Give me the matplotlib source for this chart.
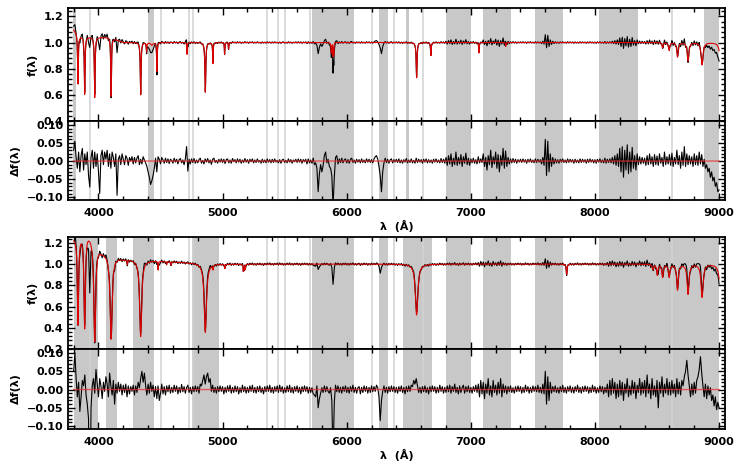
import numpy as np
import matplotlib
matplotlib.use("Agg")
import matplotlib.pyplot as plt
from matplotlib.ticker import MultipleLocator

plt.rcParams['font.family'] = ['DejaVu Sans']
plt.rcParams['font.weight'] = 'bold'
plt.rcParams['font.size'] = 8

# ---- masked regions (grey) ----
bands_a = [(3795, 3820), (4403, 4449), (5720, 6060), (6262, 6329), (6479, 6504),
           (6800, 7000), (7100, 7320), (7520, 7740), (8030, 8350), (8880, 9000)]
bands_b = [(3800, 4000), (4060, 4148), (4280, 4449), (4750, 4970), (5720, 6060),
           (6262, 6329), (6450, 6690), (6800, 7000), (7100, 7320), (7520, 7740),
           (8030, 9000)]
mask_lines = [3930, 4503, 4728, 4761, 5357, 5445, 5499, 5706, 6203, 6377, 6611, 8620]

# ---- model spectra: continuum knots + absorption lines (centre, depth, width) ----
cont_a_wave = [3800, 3850, 3950, 4100, 4200, 4500, 9000]
cont_a_flux = [1.10, 1.05, 1.04, 1.04, 1.00, 1.00, 1.00]
lines_a_center = [3835, 3889, 3970, 4102, 4340, 4388, 4430, 4471, 4713, 4861, 4922,
                  5016, 5048, 5876, 5890, 5896, 6563, 6678, 7065, 7281,
                  8545, 8598, 8665, 8750, 8863, 9015]
lines_a_depth = [0.38, 0.44, 0.46, 0.45, 0.40, 0.07, 0.02, 0.22, 0.09, 0.38, 0.16,
                 0.09, 0.05, 0.08, 0.10, 0.09, 0.27, 0.10, 0.08, 0.03,
                 0.04, 0.06, 0.11, 0.14, 0.17, 0.20]
lines_a_width = [3.5, 3.5, 3.5, 3.5, 3.5, 2.5, 10, 2.5, 2, 4, 2.5,
                 2, 2, 3, 1.5, 1.5, 4, 3, 2.5, 2,
                 5, 6, 7, 8, 9, 10]

cont_b_wave = [3800, 3900, 3960, 4020, 4100, 4200, 4400, 4700, 5000, 9000]
cont_b_flux = [1.25, 1.32, 1.25, 1.13, 1.08, 1.05, 1.035, 1.015, 1.00, 1.00]
lines_b_center = [3835, 3889, 3970, 4102, 4233, 4340, 4481, 4549, 4584, 4861, 4923,
                  5018, 5167, 5172, 5183, 6563, 7772,
                  8467, 8502, 8545, 8598, 8665, 8750, 8863, 9015]
lines_b_depth = [0.83, 0.90, 0.95, 0.78, 0.04, 0.72, 0.08, 0.03, 0.03, 0.65, 0.04,
                 0.04, 0.06, 0.05, 0.05, 0.48, 0.10,
                 0.05, 0.10, 0.12, 0.12, 0.24, 0.28, 0.31, 0.35]
lines_b_width = [6, 7, 9, 10, 2, 10, 2, 2, 2, 11, 2,
                 2, 2, 2, 2, 12, 4,
                 6, 6, 7, 7, 8, 9, 10, 12]

# ---- residuals (data - model) in units of 0.001, every 10 A from 3800 A ----
resid_a = [
    30, 55, 10, -20, 25, -30, 15, 35, -25, 20, -10, 25, -40, -72, 10, 30, -20, 25, -15, 20,      # 3800
    -30, -90, 15, 30, -10, 25, 5, 30, -15, 20, -20, 25, 10, -15, 20, -95, 5, 15, -10, 20,        # 4000
    5, -10, 15, 8, -12, 10, 0, 12, -8, 10, -5, 8, 15, -10, 5, -8, 12, 3, -5, -15,                # 4200
    -30, -45, -65, -55, -40, -20, 8, -30, 12, 5, -8, 10, 3, -6, 8, -4, 6, -7, 5, 2,              # 4400
    -6, 8, -3, 5, -8, 4, 7, -5, 3, -10, 6, 40, -28, 5, -8, 6, -4, 7, -6, 3,                      # 4600
    -5, 4, 8, -6, 2, -8, 6, -3, 7, -5, 3, -9, 5, 8, -4, 2, -6, 5, -3, 6,                         # 4800
    -4, 5, -7, 4, 6, -5, 3, -6, 7, -2, 4, -5, 6, -3, 5, -6, 3, -4, 7, -3,                        # 5000
    4, -6, 5, -2, 6, -5, 3, -4, 6, -3, 2, -6, 5, -4, 3, -5, 6, -3, 4, -5,                        # 5200
    5, -4, 6, -3, 2, -5, 4, -6, 3, 5, -4, 2, -5, 6, -3, 4, -6, 3, -2, 5,                         # 5400
    -4, 6, -3, 5, -6, 4, -2, 5, -8, 6, -5, 3, -6, 8, -10, -5, -20, -85, -35, -10,                # 5600
    -30, -12, 15, 25, -5, 5, -15, -20, -40, -125, -45, 10, 15, -8, 6, -4, 8, -5, 3, 6,           # 5800
    -5, 4, -6, 5, 8, -4, 3, -6, 5, -3, 4, -5, 6, -4, 3, -5, 6, -3, 5, -4,                        # 6000
    4, -5, 6, 12, 15, 5, -15, -40, -85, -30, -5, 8, -4, 5, -6, 3, 6, -5, 4, -3,                  # 6200
    5, -4, 6, -5, 3, -6, 4, -3, 7, -5, 3, -4, 6, -5, 2, -6, 8, -4, 5, -3,                        # 6400
    4, -6, 5, -3, 6, -5, 4, -4, 3, -6, 5, -3, 6, -4, 3, -5, 7, -4, 5, -6,                        # 6600
    10, -12, 15, -8, 20, -15, 8, -10, 25, -12, 10, -8, 18, -15, 12, -6, 22, -10, 8, -12,         # 6800
    6, -5, 8, -6, 4, -8, 12, -5, 6, -4, 20, -15, 10, -25, 15, -10, 30, -18, 12, -8,              # 7000
    25, -20, 18, -30, 15, -12, 35, -20, 28, -15, 10, -8, 6, -5, 7, -4, 5, -6, 4, -3,             # 7200
    5, -4, 6, -3, 4, -6, 5, -3, 6, -4, 3, -5, 6, -4, 5, -3, 4, -8, 10, -12,                      # 7400
    60, -40, 55, -30, 20, -15, 10, -8, 6, -5, 4, -6, 5, -3, 6, -4, 3, -5, 6, -4,                 # 7600
    5, -3, 4, -6, 5, -4, 3, -5, 6, -4, 5, -3, 4, -6, 5, -4, 6, -3, 4, -5,                        # 7800
    4, -6, 5, -3, 6, -4, 3, -5, 8, -6, 5, -4, 6, -5, 10, -8, 15, -12, 20, -15,                   # 8000
    35, -30, 40, -45, 30, -25, 45, -35, 25, -30, 38, -20, 15, -25, 20, -10, 12, -8, 10, -6,      # 8200
    8, -12, 15, -10, 20, -8, 12, -15, 18, -10, 14, -12, 20, -6, 10, -15, 25, -10, 12, -8,        # 8400
    18, -12, 22, -15, 10, -8, 30, -10, 15, -20, 25, -12, 40, -15, 20, -10, 15, -8, 12, -15,      # 8600
    20, -10, 15, -12, 25, -8, 18, -15, 5, -20, -10, -30, -20, -45, -30, -55, -45, -70, -60, -85,  # 8800
    -80]
resid_b = [
    50, 100, 30, -20, 20, -60, -20, 25, 10, 40, -15, -40, -80, -480, -50, 10, 30, -10, 55, 15,   # 3800
    -20, 30, 10, -25, 20, -5, 35, 15, -20, 45, 10, -15, 25, -40, 15, -10, 20, -5, 15, -15,       # 4000
    12, -8, 15, -20, 10, -12, 8, -5, 12, -15, 10, -8, 20, 5, 30, 50, 20, 45, 10, -15,            # 4200
    15, -10, 20, -5, 12, -20, 8, -25, 10, -30, -10, 15, -12, 8, -15, 10, -6, 12, -10, 6,         # 4400
    -8, 12, -5, 10, -12, 6, -8, 14, -6, 8, -10, 5, 12, -8, 6, -12, 8, -6, 10, -5,                # 4600
    8, -10, 15, 10, 25, 40, 15, 35, 45, 20, 30, -5, 12, -8, 6, -10, 8, -6, 10, -5,               # 4800
    8, -12, 6, -8, 10, -5, 12, -10, 6, -8, 10, -6, 8, -12, 5, -8, 12, -6, 8, -10,                # 5000
    6, -8, 10, -5, 12, -8, 6, -10, 8, -6, 10, -8, 5, -12, 8, -6, 10, -5, 12, -8,                 # 5200
    6, -10, 8, -5, 10, -8, 12, -6, 8, -10, 5, -8, 10, -6, 12, -8, 6, -10, 8, -5,                 # 5400
    10, -8, 6, -12, 8, -6, 10, -5, 8, -10, 6, -8, 5, -12, -15, -20, 10, -50, -25, -10,           # 5600
    5, -8, 10, -6, 8, -5, -10, 5, -30, -190, -35, 12, -6, 10, -8, 6, -10, 8, -5, 10,             # 5800
    -8, 6, -10, 8, -5, 12, -8, 6, -10, 5, 8, -12, 6, -8, 10, -5, 8, -10, 6, -8,                  # 6000
    10, -6, 8, -5, 12, 5, -20, -85, -30, -5, 10, -8, 6, -10, 8, -6, 10, -5, 8, -8,               # 6200
    6, -10, 8, -5, 10, -8, 6, -12, 8, -6, 10, -5, 12, 8, 25, 15, 30, 10, -8, 6,                  # 6400
    -10, 8, -6, 10, -8, 5, -12, 8, -6, 10, -5, 8, -10, 6, -8, 12, -5, 8, -10, 6,                 # 6600
    -8, 10, -6, 12, -10, 8, -5, 15, -8, 6, -12, 10, -8, 5, 12, -10, 8, -6, 10, -8,               # 6800
    6, -10, 8, -5, 12, -8, 15, -20, 25, -12, 20, -25, 15, -10, 30, -15, 10, -20, 25, -8,         # 7000
    12, -15, 20, -10, 30, -20, 15, -8, 10, -12, 8, -6, 10, -8, 5, -10, 8, -6, 10, -5,            # 7200
    8, -10, 6, -8, 12, -5, 8, -10, 6, -8, 10, -5, 8, -6, 12, -8, 6, -10, 15, -12,                # 7400
    50, -40, 35, -30, 20, -10, 8, -6, 10, -8, 5, -10, 8, -6, 12, -8, 6, -10, 8, -5,              # 7600
    10, -8, 6, -10, 8, -5, 12, -8, 6, -10, 8, -6, 10, -5, 8, -10, 6, -8, 12, -6,                 # 7800
    8, -10, 5, -8, 10, -6, 8, -12, 6, -8, 15, -20, 25, -15, 30, -10, 20, -25, 15, -20,           # 8000
    25, -15, 20, -30, 15, -10, 30, -20, 10, -15, 25, -10, 20, -25, 12, -8, 30, -15, 20, -10,     # 8200
    25, -20, 40, -10, 15, -25, 30, -15, 10, -20, 25, -50, 20, -10, 35, -20, 15, -10, 30, -15,    # 8400
    20, -15, 25, -10, 15, -20, 30, -12, 20, -15, 25, 10, 35, 50, 80, 40, 10, -20, 15, -15,       # 8600
    20, -10, 25, 35, 55, 90, 45, 10, -20, 15, -25, 10, -15, 5, -30, -15, -45, -20, -55, -35,     # 8800
    -50]

resid_wave = np.arange(3800, 9001, 10)
wave = np.arange(3800, 9000.5, 1.0)


def model_flux(w, cw, cf, centers, depths, widths):
    flux = np.interp(w, cw, cf)
    for c, d, g in zip(centers, depths, widths):
        flux = flux - d / (1.0 + ((w - c) / g) ** 2)
    return flux


def draw_star(ax_f, ax_r, model, resid, bands, ylim_f):
    resid = np.array(resid) / 1000.0
    data = model + np.interp(wave, resid_wave, resid)
    for ax in (ax_f, ax_r):
        for lo, hi in bands:
            ax.axvspan(lo, hi, color='#c8c8c8', lw=0, zorder=0)
        for lw in mask_lines:
            ax.axvline(lw, color='#d2d2d2', lw=1.1, zorder=0)
    ax_f.plot(wave, data, color='black', lw=0.8, zorder=2)
    ax_f.plot(wave, model, color='#dd0000', lw=0.8, zorder=3)
    ax_r.plot(resid_wave, resid, color='black', lw=0.8, zorder=2)
    ax_r.plot(wave, np.zeros_like(wave), color='#e8302f', lw=1.0, alpha=0.75, zorder=3)

    ax_f.set_ylim(*ylim_f)
    ax_r.set_ylim(-0.108, 0.111)
    ax_f.yaxis.set_major_locator(MultipleLocator(0.2))
    ax_f.yaxis.set_minor_locator(MultipleLocator(0.04))
    ax_r.yaxis.set_major_locator(MultipleLocator(0.05))
    ax_r.yaxis.set_minor_locator(MultipleLocator(0.01))
    ax_f.set_ylabel('f(λ)', fontweight='bold', labelpad=4)
    ax_r.set_ylabel('Δf(λ)', fontweight='bold', labelpad=4)
    ax_r.set_xlabel('λ  (Å)', fontweight='bold', labelpad=1)
    ax_f.tick_params(labelbottom=False)
    for ax in (ax_f, ax_r):
        ax.set_xlim(3752, 9048)
        ax.xaxis.set_major_locator(MultipleLocator(1000))
        ax.xaxis.set_minor_locator(MultipleLocator(200))
        ax.tick_params(which='both', direction='in', top=True, right=True, width=1.0)
        ax.tick_params(which='major', length=5, pad=3)
        ax.tick_params(axis='x', which='major', pad=6)
        ax.tick_params(which='minor', length=3)
        for s in ax.spines.values():
            s.set_linewidth(1.3)


model_a = model_flux(wave, cont_a_wave, cont_a_flux, lines_a_center, lines_a_depth, lines_a_width)
model_b = model_flux(wave, cont_b_wave, cont_b_flux, lines_b_center, lines_b_depth, lines_b_width)

fig = plt.figure(figsize=(7.47, 4.67), dpi=100)
left, width = 0.0906, 0.880
ax1 = fig.add_axes([left, 0.7409, width, 0.2409])
ax2 = fig.add_axes([left, 0.5717, width, 0.1692])
ax3 = fig.add_axes([left, 0.2527, width, 0.2398])
ax4 = fig.add_axes([left, 0.0814, width, 0.1713])

draw_star(ax1, ax2, model_a, resid_a, bands_a, (0.4, 1.26))
draw_star(ax3, ax4, model_b, resid_b, bands_b, (0.2, 1.255))

fig.savefig('out.png', dpi=100)
